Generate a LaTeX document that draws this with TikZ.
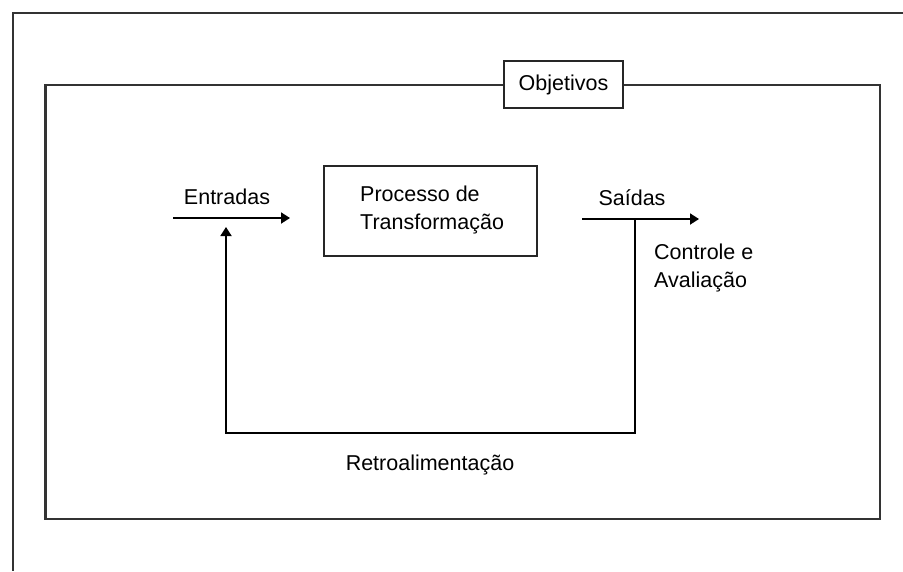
\documentclass[tikz,border=0pt]{standalone}
\usepackage{fontspec}
\setmainfont{Liberation Sans}
\usetikzlibrary{arrows.meta}
\begin{document}
\begin{tikzpicture}[x=1pt,y=-1pt,
  frame/.style={draw=black!80, line width=2.2pt},
  wire/.style={draw=black, line width=1.8pt},
  flow/.style={wire, -{Triangle[length=9pt,width=11pt]}},
  box/.style={draw=black!85, line width=2.2pt, fill=white, inner sep=0pt},
  lbl/.style={font=\fontsize{21.5}{28}\selectfont, inner sep=0pt},
]
\useasboundingbox (0,0) rectangle (903,571);
\fill[white] (0,0) rectangle (903,571);

% open outer frame (top and left edges)
\draw[frame] (903,13) -- (13,13) -- (13,571);

% system boundary
\draw[frame] (45.5,85) rectangle (880,519);

% objectives tag on the boundary
\node[box, minimum width=119pt, minimum height=47pt, lbl] (obj) at (563.5,84.5) {Objetivos};

% transformation process
\node[box, minimum width=213pt, minimum height=90pt] (proc) at (430.5,211) {};
\node[lbl, align=left, anchor=west] (proctxt) at (360,210) {Processo de\\Transforma\c{c}\~ao};

% inputs
\coordinate (inA) at (173,218);
\coordinate (inB) at (290,218);
\draw[flow] (inA) -- (inB);
\node[lbl] (entradas) at (227,197) {Entradas};

% outputs
\coordinate (outA) at (582,219);
\coordinate (outB) at (699,219);
\draw[flow] (outA) -- (outB);
\node[lbl] (saidas) at (632,198) {Sa\'idas};

% feedback loop
\coordinate (tap) at (635,219);
\coordinate (br) at (635,433);
\coordinate (bl) at (226,433);
\coordinate (fbEnd) at (226,227);
\draw[flow] (tap) -- (br) -- (bl) -- (fbEnd);

\node[lbl, align=left, anchor=west] (ctrl) at (654,268) {Controle e\\Avalia\c{c}\~ao};
\node[lbl] (retro) at (430,465) {Retroalimenta\c{c}\~ao};
\end{tikzpicture}
\end{document}
